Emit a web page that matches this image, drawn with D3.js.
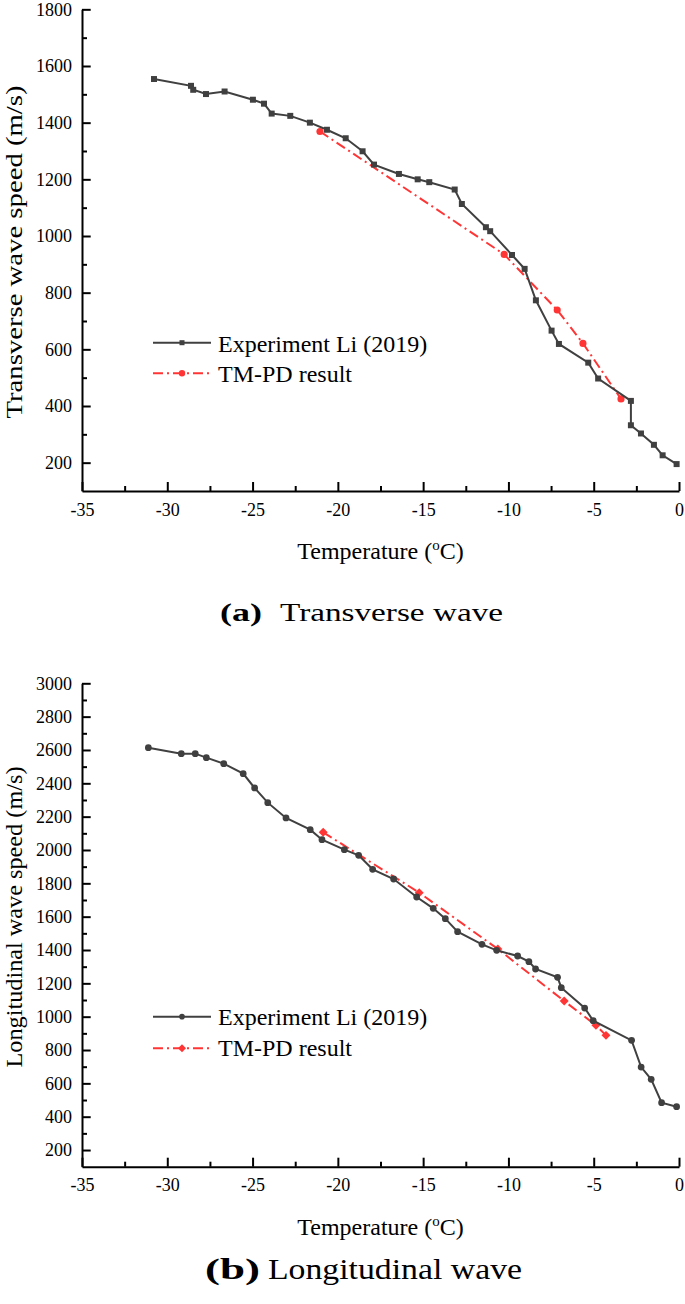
<!DOCTYPE html>
<html><head><meta charset="utf-8">
<script src="https://cdn.jsdelivr.net/npm/d3@7"></script>
<style>html,body{margin:0;padding:0;background:#fff;}svg{display:block;}</style>
</head><body>
<script>
// ---- data ----
const xTicks = [-35,-30,-25,-20,-15,-10,-5,0];
const topYTicks = [200,400,600,800,1000,1200,1400,1600,1800];
const botYTicks = [200,400,600,800,1000,1200,1400,1600,1800,2000,2200,2400,2600,2800,3000];

const topExpT = [-30.78,-28.61,-28.48,-27.73,-26.64,-24.98,-24.33,-23.88,-22.79,-21.64,-20.64,-19.54,-18.55,-17.88,-16.42,-15.32,-14.64,-13.15,-12.73,-11.32,-11.07,-9.79,-9.05,-8.39,-7.47,-7.04,-5.32,-4.74,-2.82,-2.82,-2.23,-1.47,-0.96,-0.14];
const topExpV = [1554,1530,1516,1501,1510,1481,1467,1432,1424,1400,1375,1345,1299,1252,1219,1200,1190,1164,1113,1031,1017,933,884,773,666,619,553,497,418,332,303,263,226,195];
const topModelT = [-21.05,-10.25,-7.14,-5.63,-3.4];
const topModelV = [1369,935,739,621,425];

const botExpT = [-31.11,-29.18,-28.36,-27.71,-26.69,-25.55,-24.88,-24.11,-23.04,-21.62,-20.93,-19.62,-18.78,-17.96,-16.73,-15.38,-14.41,-13.7,-12.98,-11.55,-10.69,-9.46,-8.8,-8.41,-7.12,-6.9,-5.53,-5.03,-2.78,-2.22,-1.63,-1.02,-0.14];
const botExpV = [2614,2578,2578,2554,2518,2458,2372,2284,2192,2122,2062,2002,1968,1884,1826,1718,1650,1588,1510,1434,1398,1364,1330,1286,1236,1174,1052,976,858,698,624,484,460];
const botModelT = [-20.86,-15.23,-10.62,-6.73,-4.87,-4.28];
const botModelV = [2106,1744,1406,1094,948,888];

const seriesNames = ["Experiment Li (2019)","TM-PD result"];

// ---- drawing ----
const W = 685, H = 1304;
const FONT = "'Liberation Serif','Times New Roman',serif";
const BLACK = "#404040", RED = "#ff3535";
const svg = d3.select("body").append("svg").attr("width", W).attr("height", H)
  .style("font-family", FONT);

function panel(cfg) {
  const x = d3.scaleLinear().domain([-35, 0]).range([82, 679]);
  const y = d3.scaleLinear().domain(cfg.yDomain).range(cfg.yRange);
  const g = svg.append("g");
  const x0 = cfg.yRange[0];

  // minor ticks
  const xMinor = d3.range(-32.5, 0, 5);
  g.append("g").attr("transform", `translate(0,${x0})`)
    .call(d3.axisBottom(x).tickValues(xMinor).tickSize(-5).tickFormat(""))
    .call(s => s.select(".domain").remove())
    .call(s => s.selectAll("line").attr("stroke", "#000").attr("stroke-width", 2));
  const yMinor = d3.range(cfg.yDomain[0] + 200, cfg.yDomain[1], 200);
  g.append("g").attr("transform", "translate(82,0)")
    .call(d3.axisLeft(y).tickValues(yMinor).tickSize(-5).tickFormat(""))
    .call(s => s.select(".domain").remove())
    .call(s => s.selectAll("line").attr("stroke", "#000").attr("stroke-width", 2));

  // major axes
  g.append("g").attr("transform", `translate(0,${x0})`)
    .call(d3.axisBottom(x).tickValues(xTicks).tickSize(-9).tickSizeOuter(0).tickPadding(12).tickFormat(d => String(d)))
    .call(s => s.select(".domain").attr("stroke", "#000").attr("stroke-width", 2))
    .call(s => s.selectAll("line").attr("stroke", "#000").attr("stroke-width", 2))
    .call(s => s.selectAll("text").attr("font-size", 18).attr("font-family", FONT).attr("fill", "#000"));
  g.append("g").attr("transform", "translate(82,0)")
    .call(d3.axisLeft(y).tickValues(cfg.yTicks).tickSize(-8.7).tickSizeOuter(0).tickPadding(10).tickFormat(d => String(d)))
    .call(s => s.select(".domain").attr("stroke", "#000").attr("stroke-width", 2))
    .call(s => s.selectAll("line").attr("stroke", "#000").attr("stroke-width", 2))
    .call(s => s.selectAll("text").attr("font-size", 18).attr("font-family", FONT).attr("fill", "#000"));

  // series
  const line = d3.line().x(d => x(d[0])).y(d => y(d[1]));
  const exp = cfg.expT.map((t, i) => [t, cfg.expV[i]]);
  const mod = cfg.modT.map((t, i) => [t, cfg.modV[i]]);
  g.append("path").datum(mod).attr("d", line).attr("fill", "none")
    .attr("stroke", RED).attr("stroke-width", 2).attr("stroke-dasharray", "10,4,2,4");
  g.selectAll(".mm").data(mod).enter().append("path")
    .attr("transform", d => `translate(${x(d[0])},${y(d[1])})${cfg.modRot}`)
    .attr("d", d3.symbol().type(cfg.modSym).size(cfg.modSize)).attr("fill", RED);
  g.append("path").datum(exp).attr("d", line).attr("fill", "none")
    .attr("stroke", BLACK).attr("stroke-width", 2);
  g.selectAll(".em").data(exp).enter().append("path")
    .attr("transform", d => `translate(${x(d[0])},${y(d[1])})`)
    .attr("d", d3.symbol().type(cfg.expSym).size(cfg.expSize)).attr("fill", BLACK);

  // legend
  const L = cfg.legend;
  [0, 1].forEach(i => {
    const ly = L.lineY[i];
    const col = i === 0 ? BLACK : RED;
    g.append("line").attr("x1", 153).attr("x2", 211).attr("y1", ly).attr("y2", ly)
      .attr("stroke", col).attr("stroke-width", 2)
      .attr("stroke-dasharray", i === 0 ? null : "10,4,2,4");
    g.append("path").attr("transform", `translate(182,${ly})${i === 0 ? "" : cfg.modRot}`)
      .attr("d", d3.symbol().type(i === 0 ? cfg.expSym : cfg.modSym).size(i === 0 ? cfg.expSize * 0.7 : cfg.modSize * 0.8))
      .attr("fill", col);
    g.append("text").attr("x", 218).attr("y", L.textY[i]).attr("font-size", 24)
      .attr("fill", "#000").text(seriesNames[i]);
  });

  // y label
  const yl = g.append("text").attr("transform", `translate(${cfg.yLabelX},${cfg.yLabelY}) rotate(-90)`)
    .attr("text-anchor", "middle").attr("font-size", 24).attr("fill", "#000").text(cfg.yLabel);
  if (cfg.yLabelLen) yl.attr("textLength", cfg.yLabelLen).attr("lengthAdjust", "spacingAndGlyphs");

  // x label
  const xl = g.append("text").attr("x", 380.5).attr("y", x0 + 68).attr("text-anchor", "middle")
    .attr("font-size", 24).attr("fill", "#000");
  xl.append("tspan").text("Temperature (");
  xl.append("tspan").attr("font-size", 15).attr("dy", -9).text("o");
  xl.append("tspan").attr("dy", 9).text("C)");

  // caption
  const c = cfg.caption;
  g.append("text").attr("x", c.x1).attr("y", c.y).attr("font-size", c.size).attr("font-weight", "bold")
    .attr("textLength", c.len1).attr("lengthAdjust", "spacingAndGlyphs").attr("fill", "#000").text(c.tag);
  g.append("text").attr("x", c.x2).attr("y", c.y).attr("font-size", c.size)
    .attr("textLength", c.len2).attr("lengthAdjust", "spacingAndGlyphs").attr("fill", "#000").text(c.text);
}

panel({
  yDomain: [100, 1800], yRange: [491, 9.33], yTicks: topYTicks,
  expT: topExpT, expV: topExpV, modT: topModelT, modV: topModelV,
  expSym: d3.symbolSquare, expSize: 36, modSym: d3.symbolCircle, modSize: 40, modRot: "",
  legend: { lineY: [342.7, 373.3], textY: [351.7, 382.3] },
  yLabel: "Transverse wave speed (m/s)", yLabelX: 22, yLabelY: 252, yLabelLen: 333,
  caption: { tag: "(a)", text: "Transverse wave", x1: 220, x2: 280, y: 621, size: 26, len1: 42, len2: 223 }
});

panel({
  yDomain: [100, 3000], yRange: [1166.7, 683.3], yTicks: botYTicks,
  expT: botExpT, expV: botExpV, modT: botModelT, modV: botModelV,
  expSym: d3.symbolCircle, expSize: 36, modSym: d3.symbolSquare, modSize: 40, modRot: " rotate(45)",
  legend: { lineY: [1016.7, 1048.3], textY: [1025, 1056] },
  yLabel: "Longitudinal wave speed (m/s)", yLabelX: 22, yLabelY: 917, yLabelLen: 301,
  caption: { tag: "(b)", text: "Longitudinal wave", x1: 205, x2: 268, y: 1279, size: 30, len1: 55, len2: 254 }
});
</script>
</body></html>
